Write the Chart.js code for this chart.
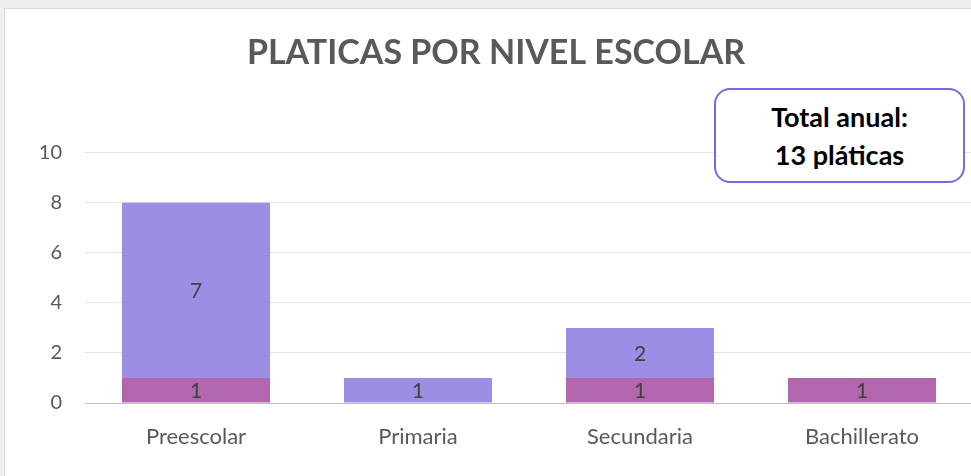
<!DOCTYPE html>
<html>
<head>
<meta charset="utf-8">
<script src="https://cdn.jsdelivr.net/npm/chart.js@4"></script>
<style>
  html, body { margin: 0; padding: 0; width: 971px; height: 476px; overflow: hidden; background: #efefef; }
  #card { position: absolute; left: 4px; top: 8px; width: 990px; height: 490px; background: #fff; border: 1px solid #d9d9d9; }
  #wrap { position: absolute; left: 0; top: 0; width: 980px; height: 476px; }
  #note { position: absolute; left: 714px; top: 88px; width: 251px; height: 95px; border: 2px solid #7b68e4; border-radius: 16px; background: #fff;
          font-family: Lato, "Noto Sans", sans-serif; font-weight: bold; font-size: 27px; line-height: 38px; color: #000; text-align: center;
          display: flex; flex-direction: column; justify-content: center; box-sizing: border-box; }
</style>
</head>
<body>
<div id="card"></div>
<div id="wrap"><canvas id="c" width="980" height="476"></canvas></div>
<div id="note"><div>Total anual:</div><div>13 pláticas</div></div>
<script>
const categories = ["Preescolar", "Primaria", "Secundaria", "Bachillerato"];
const seriesBottom = [1, 0, 1, 1];
const seriesTop = [7, 1, 2, 0];
const yTicks = [0, 2, 4, 6, 8, 10];
const titleText = "PLATICAS POR NIVEL ESCOLAR";

const FONT = "Lato, 'Noto Sans', sans-serif";

const labelPlugin = {
  id: 'segLabels',
  afterDatasetsDraw(chart) {
    const ctx = chart.ctx;
    ctx.save();
    ctx.font = "21px " + FONT;
    ctx.fillStyle = "#404040";
    ctx.textAlign = "center";
    ctx.textBaseline = "middle";
    chart.data.datasets.forEach((ds, di) => {
      const meta = chart.getDatasetMeta(di);
      meta.data.forEach((bar, i) => {
        const v = ds.data[i];
        if (!v) return;
        ctx.fillText(String(v), bar.x, (bar.y + bar.base) / 2 + 1);
      });
    });
    ctx.restore();
  }
};

new Chart(document.getElementById('c'), {
  type: 'bar',
  data: {
    labels: categories,
    datasets: [
      { label: 'A', data: seriesBottom, backgroundColor: 'rgb(177,102,174)', categoryPercentage: 1, barPercentage: 0.667 },
      { label: 'B', data: seriesTop, backgroundColor: 'rgb(157,141,228)', categoryPercentage: 1, barPercentage: 0.667 }
    ]
  },
  options: {
    responsive: false,
    animation: false,
    layout: { padding: { left: 19, right: 7, top: 0, bottom: 0 } },
    plugins: {
      legend: { display: false },
      tooltip: { enabled: false },
      title: {
        display: true, text: titleText, color: '#595959',
        font: { family: FONT, size: 34, weight: 'bold' },
        padding: { top: 33, bottom: 79 }
      }
    },
    scales: {
      x: {
        stacked: true,
        grid: { display: false },
        border: { display: true, color: '#bfbfbf', width: 1 },
        ticks: { color: '#595959', font: { family: FONT, size: 22 }, padding: 13 },
        afterFit(s) { s.height = 73; }
      },
      y: {
        stacked: true, min: 0, max: 10,
        afterBuildTicks(s) { s.ticks = yTicks.map(v => ({ value: v })); },
        grid: { color: '#e3e3e3', drawTicks: false },
        border: { display: false },
        ticks: { color: '#595959', font: { family: FONT, size: 20 }, padding: 23 },
        afterFit(s) { s.width = 66; }
      }
    }
  },
  plugins: [labelPlugin]
});
</script>
</body>
</html>
